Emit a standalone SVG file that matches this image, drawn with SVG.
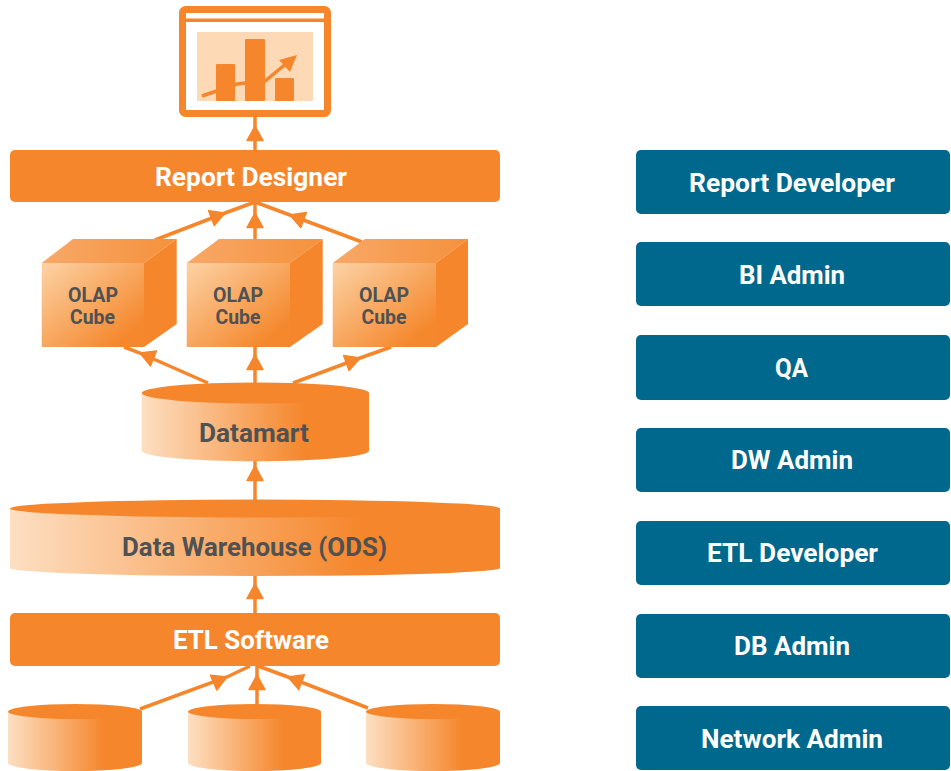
<svg xmlns="http://www.w3.org/2000/svg" width="951" height="771" viewBox="0 0 951 771">
<style>
.o{fill:#f5862b}
.t{fill:#00688c}
text{font-family:"Roboto","Liberation Sans",sans-serif;font-weight:700;text-anchor:middle}
.w{fill:#fff;font-size:25.500px}
.d{fill:#4f5152;font-size:25.500px}
.s{fill:#4f5152;font-size:20px}
.c{fill:none;stroke:#f5862b;stroke-width:3.500;marker-mid:url(#h)}
.side{fill:#f5862b}
.front{fill:url(#gf)}
.top{fill:url(#gt)}
.cyl{fill:url(#gc)}
</style>
<defs>
<linearGradient id="gf" x1="0" y1="0" x2="1" y2="1"><stop offset="0" stop-color="#fcd3a6"/><stop offset="0.85" stop-color="#f5882d"/></linearGradient>
<linearGradient id="gt" x1="0" y1="0" x2="1" y2="0"><stop offset="0" stop-color="#f8a868"/><stop offset="1" stop-color="#f5913c"/></linearGradient>
<linearGradient id="gc" x1="0" y1="0" x2="1" y2="0"><stop offset="0" stop-color="#fddfc2"/><stop offset="0.72" stop-color="#f5862b"/></linearGradient>
<marker id="h" markerUnits="userSpaceOnUse" markerWidth="18" markerHeight="20" viewBox="0 0 18 20" refX="16" refY="10" orient="auto"><path d="M16 10 L1.500 2 L1.500 18 Z" fill="#f5862b" stroke="#f5862b" stroke-width="1.500" stroke-linejoin="round"/></marker>
</defs>
<g id="connectors">
<path class="c" d="M255 150L255 126L255 117"/>
<path class="c" d="M155 240L225 213L255 202"/>
<path class="c" d="M255 240L255 213L255 202"/>
<path class="c" d="M362 242L290 215L255 202"/>
<path class="c" d="M208 383L140 353L124 347"/>
<path class="c" d="M255 383L255 355L255 347"/>
<path class="c" d="M293 383L360 358L391 347"/>
<path class="c" d="M255 500L255 466L255 461"/>
<path class="c" d="M255 613L255 584L255 576"/>
<path class="c" d="M140 709L227 677L250 666"/>
<path class="c" d="M257 705L257 675L257 666"/>
<path class="c" d="M368 708L288 677L258 666"/>
</g>
<g id="monitor">
<rect x="182.500" y="9.500" width="145" height="104" rx="3" fill="#fff" stroke="#f5862b" stroke-width="7"/>
<rect x="186" y="18.500" width="138" height="3.500" class="o"/>
<rect x="197" y="32" width="116" height="69" fill="#fdd9b5"/>
<rect x="216" y="64" width="19" height="37" rx="1" class="o"/>
<rect x="245" y="39" width="20" height="62" rx="1" class="o"/>
<rect x="275" y="78" width="19" height="23" rx="1" class="o"/>
<path d="M202 96L237 84L265 81L287 63" fill="none" stroke="#f5862b" stroke-width="3.500"/>
<path d="M297 55L279 60L290 72Z" class="o"/>
</g>
<g id="report-designer">
<rect x="10" y="150" width="490" height="52" rx="5" class="o"/>
<text class="w" x="251" y="186" textLength="192" lengthAdjust="spacingAndGlyphs">Report Designer</text>
</g>
<g id="cube-1">
<path class="front" d="M41.700 263H144V347H41.700Z"/>
<path class="top" d="M41.700 263L73 239H176.700L144 263Z"/>
<path class="side" d="M144 263L176.700 239V324L144 347Z"/>
<text class="s" x="93" y="302" textLength="50" lengthAdjust="spacingAndGlyphs">OLAP</text>
<text class="s" x="92.500" y="324" textLength="45" lengthAdjust="spacingAndGlyphs">Cube</text>
</g>
<g id="cube-2">
<path class="front" d="M186.700 263H290V347H186.700Z"/>
<path class="top" d="M186.700 263L219 239H322.700L290 263Z"/>
<path class="side" d="M290 263L322.700 239V324L290 347Z"/>
<text class="s" x="238" y="302" textLength="50" lengthAdjust="spacingAndGlyphs">OLAP</text>
<text class="s" x="238" y="324" textLength="45" lengthAdjust="spacingAndGlyphs">Cube</text>
</g>
<g id="cube-3">
<path class="front" d="M332.700 263H436V347H332.700Z"/>
<path class="top" d="M332.700 263L365 239H468L436 263Z"/>
<path class="side" d="M436 263L468 239V324L436 347Z"/>
<text class="s" x="384" y="302" textLength="50" lengthAdjust="spacingAndGlyphs">OLAP</text>
<text class="s" x="384" y="324" textLength="45" lengthAdjust="spacingAndGlyphs">Cube</text>
</g>
<g id="datamart">
<path class="cyl" d="M141.700 393V451A113.700 10.500 0 0 0 369 451V393Z"/>
<ellipse cx="255.400" cy="393" rx="113.700" ry="10.500" class="o"/>
<text class="d" x="254" y="442" textLength="110" lengthAdjust="spacingAndGlyphs">Datamart</text>
</g>
<g id="data-warehouse">
<path class="cyl" d="M10 508.500V568A245 8 0 0 0 500 568V508.500Z"/>
<ellipse cx="255" cy="508.500" rx="245" ry="9" class="o"/>
<text class="d" x="254.500" y="556" textLength="265" lengthAdjust="spacingAndGlyphs">Data Warehouse (ODS)</text>
</g>
<g id="etl-software">
<rect x="10" y="613" width="490" height="53" rx="5" class="o"/>
<text class="w" x="251" y="649" textLength="156" lengthAdjust="spacingAndGlyphs">ETL Software</text>
</g>
<g id="source-1">
<path class="cyl" d="M8 711.500V763A67 8 0 0 0 142 763V711.500Z"/>
<ellipse cx="75" cy="711.500" rx="67" ry="7.500" class="o"/>
</g>
<g id="source-2">
<path class="cyl" d="M188 711.500V763A66.500 8 0 0 0 321 763V711.500Z"/>
<ellipse cx="254.500" cy="711.500" rx="66.500" ry="7.500" class="o"/>
</g>
<g id="source-3">
<path class="cyl" d="M366 711.500V763A67 8 0 0 0 500 763V711.500Z"/>
<ellipse cx="433" cy="711.500" rx="67" ry="7.500" class="o"/>
</g>
<g id="role-report-developer"><rect x="636" y="150" width="314" height="64" rx="5" class="t"/><text class="w" x="792" y="192" textLength="206" lengthAdjust="spacingAndGlyphs">Report Developer</text></g>
<g id="role-bi-admin"><rect x="636" y="242" width="314" height="64" rx="5" class="t"/><text class="w" x="792" y="284" textLength="106" lengthAdjust="spacingAndGlyphs">BI Admin</text></g>
<g id="role-qa"><rect x="636" y="335" width="314" height="65" rx="5" class="t"/><text class="w" x="791.500" y="377" textLength="33" lengthAdjust="spacingAndGlyphs">QA</text></g>
<g id="role-dw-admin"><rect x="636" y="428" width="314" height="64" rx="5" class="t"/><text class="w" x="792" y="469" textLength="122" lengthAdjust="spacingAndGlyphs">DW Admin</text></g>
<g id="role-etl-developer"><rect x="636" y="521" width="314" height="64" rx="5" class="t"/><text class="w" x="792.500" y="562" textLength="171" lengthAdjust="spacingAndGlyphs">ETL Developer</text></g>
<g id="role-db-admin"><rect x="636" y="614" width="314" height="64" rx="5" class="t"/><text class="w" x="792" y="655" textLength="116" lengthAdjust="spacingAndGlyphs">DB Admin</text></g>
<g id="role-network-admin"><rect x="636" y="706" width="314" height="64" rx="5" class="t"/><text class="w" x="792" y="748" textLength="182" lengthAdjust="spacingAndGlyphs">Network Admin</text></g>
</svg>
